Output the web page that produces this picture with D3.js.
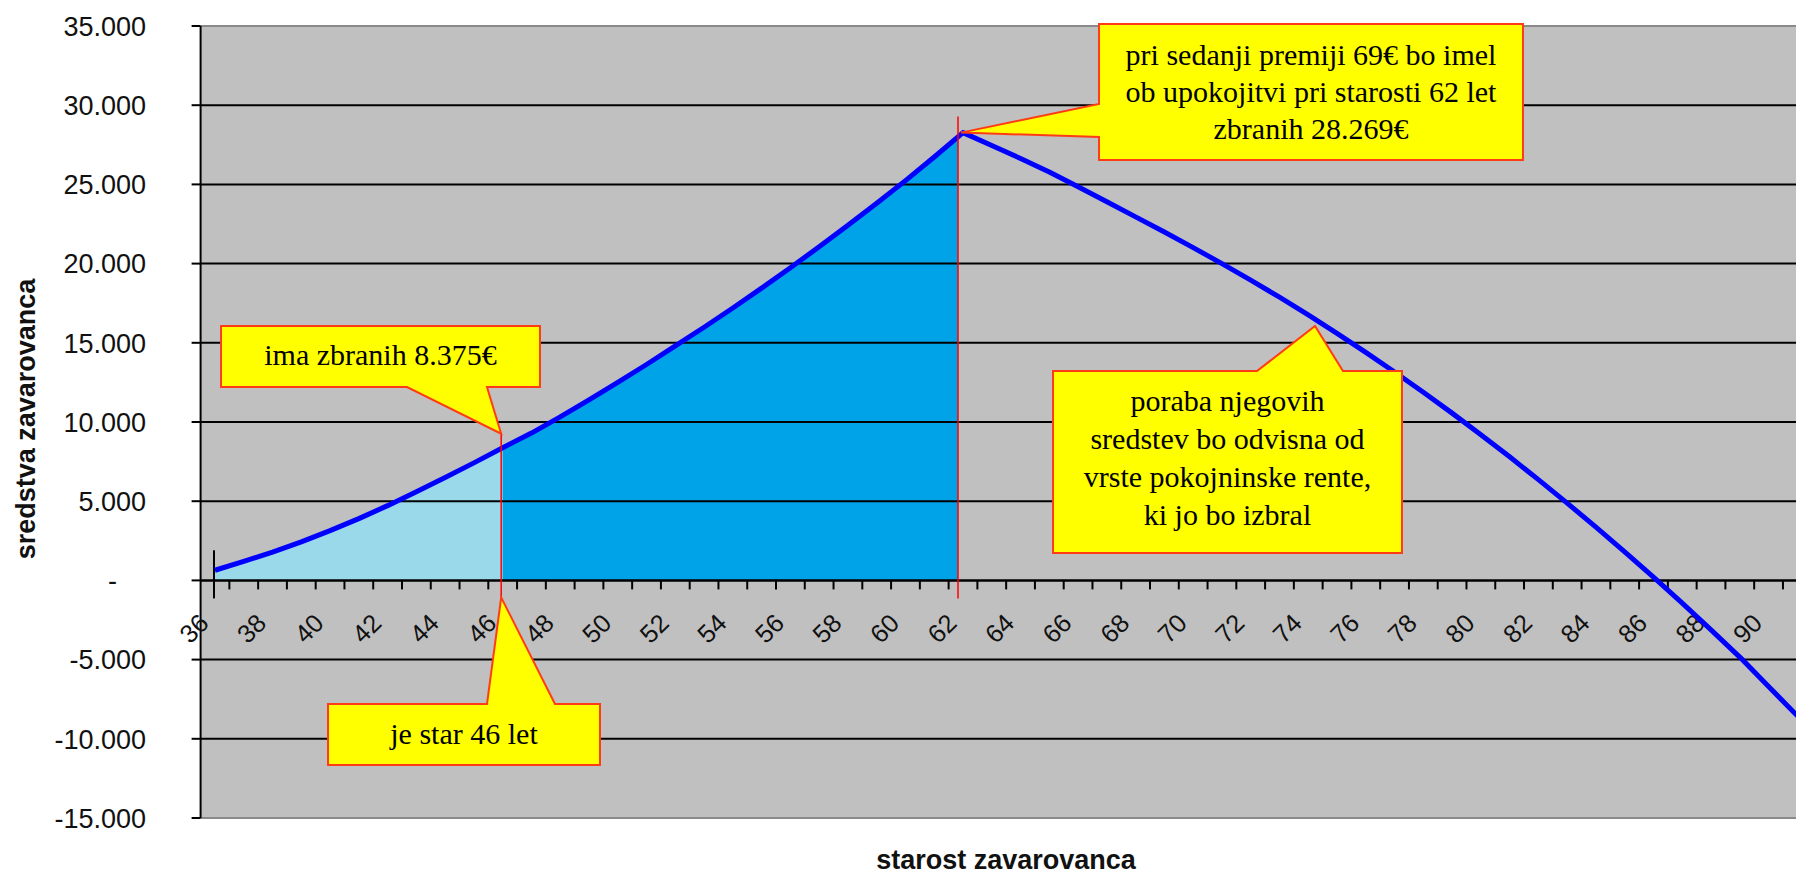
<!DOCTYPE html>
<html>
<head>
<meta charset="utf-8">
<script src="https://cdnjs.cloudflare.com/ajax/libs/d3/7.8.5/d3.min.js"></script>
<style>
  body { margin: 0; background: #fff; }
  svg { display: block; }
</style>
</head>
<body>
<svg id="chart" width="1796" height="875"></svg>
<script>
// starost (leta) in sredstva zavarovanca (EUR), odcitano s slike
var ages = [36, 37, 38, 39, 40, 41, 42, 43, 44, 45, 46, 47, 48, 49, 50, 51, 52, 53, 54, 55,
            56, 57, 58, 59, 60, 61, 62, 63, 64, 65, 66, 67, 68, 69, 70, 71, 72, 73, 74, 75,
            76, 77, 78, 79, 80, 81, 82, 83, 84, 85, 86, 87, 88, 89, 90, 91];
var sredstva = [640, 1200, 1790, 2430, 3140, 3900, 4720, 5600, 6500, 7420, 8375, 9300, 10320, 11400, 12500, 13630, 14800, 15980, 17200, 18450,
                19740, 21060, 22420, 23810, 25240, 26730, 28269, 27450, 26640, 25780, 24850, 23900, 22950, 21990, 21010, 20000, 18960, 17880, 16760, 15600,
                14400, 13160, 11880, 10560, 9200, 7800, 6360, 4880, 3360, 1800, 200, -1440, -3120, -4840, -6700, -8550];

var yTicks = [-15000, -10000, -5000, 0, 5000, 10000, 15000, 20000, 25000, 30000, 35000];
var yTickLabels = ["-15.000", "-10.000", "-5.000", "-", "5.000", "10.000", "15.000", "20.000", "25.000", "30.000", "35.000"];
var xTickLabels = [36, 38, 40, 42, 44, 46, 48, 50, 52, 54, 56, 58, 60, 62, 64, 66, 68, 70, 72, 74, 76, 78, 80, 82, 84, 86, 88, 90];

var currentAge = 46;
var retireAge = 62;

var textNow = ["ima zbranih 8.375€"];
var textAge = ["je star 46 let"];
var textRetire = ["pri sedanji premiji 69€ bo imel", "ob upokojitvi pri starosti 62 let", "zbranih 28.269€"];
var textSpend = ["poraba njegovih", "sredstev bo odvisna od", "vrste pokojninske rente,", "ki jo bo izbral"];

var W = 1796, H = 875;
var plotLeft = 200.6, plotTop = 26, plotBottom = 818;

var svg = d3.select("#chart");

var x = d3.scaleBand()
    .domain(ages)
    .range([plotLeft, plotLeft + ages.length * 28.77])
    .padding(0);
function cx(a) { return x(a) + x.bandwidth() / 2; }

var y = d3.scaleLinear()
    .domain([-15000, 35000])
    .range([plotBottom, plotTop]);

var pts = ages.map(function(a, i) { return { age: a, v: sredstva[i] }; });

var xNow = cx(currentAge) - 1.5;
var xRet = cx(retireAge) - 5;

// plot area
svg.append("rect")
    .attr("x", plotLeft).attr("y", plotTop)
    .attr("width", W - plotLeft).attr("height", plotBottom - plotTop)
    .style("fill", "#c0c0c0");

svg.append("clipPath")
    .attr("id", "fillClip")
  .append("rect")
    .attr("x", plotLeft).attr("y", plotTop)
    .attr("width", xRet - plotLeft).attr("height", plotBottom - plotTop);

// fills
var area = d3.area()
    .x(function(d) { return cx(d.age); })
    .y0(y(0))
    .y1(function(d) { return y(d.v); });

svg.append("path")
    .datum(pts.filter(function(d) { return d.age <= currentAge; }))
    .attr("d", area)
    .attr("clip-path", "url(#fillClip)")
    .style("fill", "#99d9ea");

svg.append("path")
    .datum(pts.filter(function(d) { return d.age >= currentAge && d.age <= retireAge; }))
    .attr("d", area)
    .attr("clip-path", "url(#fillClip)")
    .style("fill", "#00a2e8");

// grid
svg.selectAll(".grid")
    .data(yTicks.filter(function(t) { return t > -15000 && t < 35000; }))
    .enter().append("line")
    .attr("x1", plotLeft).attr("x2", W)
    .attr("y1", function(d) { return y(d); })
    .attr("y2", function(d) { return y(d); })
    .style("stroke", "#000")
    .style("stroke-width", "2px");

// border top / bottom
[plotTop, plotBottom].forEach(function(yy) {
  svg.append("line")
      .attr("x1", plotLeft).attr("x2", W)
      .attr("y1", yy).attr("y2", yy)
      .style("stroke", "#8a8a8a")
      .style("stroke-width", "2px");
});

// y axis
svg.append("line")
    .attr("x1", plotLeft).attr("x2", plotLeft)
    .attr("y1", plotTop).attr("y2", plotBottom)
    .style("stroke", "#000")
    .style("stroke-width", "2px");

svg.selectAll(".ytick")
    .data(yTicks)
    .enter().append("line")
    .attr("x1", plotLeft - 9).attr("x2", plotLeft)
    .attr("y1", function(d) { return y(d); })
    .attr("y2", function(d) { return y(d); })
    .style("stroke", "#000")
    .style("stroke-width", "2px");

svg.selectAll(".ylab")
    .data(yTicks)
    .enter().append("text")
    .attr("x", 146)
    .attr("y", function(d) { return y(d); })
    .attr("dx", function(d) { return d === 0 ? -29 : 0; })
    .attr("dy", "0.36em")
    .attr("text-anchor", "end")
    .style("font-family", "'Liberation Sans', Arial, sans-serif")
    .style("font-size", "27px")
    .style("fill", "#111")
    .text(function(d, i) { return yTickLabels[i]; });

// x axis
svg.append("line")
    .attr("x1", plotLeft).attr("x2", W)
    .attr("y1", y(0)).attr("y2", y(0))
    .style("stroke", "#000")
    .style("stroke-width", "2px");

svg.selectAll(".xtick")
    .data(ages.slice(1))
    .enter().append("line")
    .attr("x1", function(d) { return x(d); })
    .attr("x2", function(d) { return x(d); })
    .attr("y1", y(0)).attr("y2", y(0) + 9)
    .style("stroke", "#000")
    .style("stroke-width", "2px");

svg.selectAll(".xlab")
    .data(xTickLabels)
    .enter().append("text")
    .attr("transform", function(d) { return "translate(" + (cx(d) - 11) + "," + (y(0) + 38) + ") rotate(-45)"; })
    .attr("text-anchor", "end")
    .attr("dy", "0.35em")
    .style("font-family", "'Liberation Sans', Arial, sans-serif")
    .style("font-size", "25.5px")
    .style("fill", "#111")
    .text(function(d) { return d; });

// small marker at first point
svg.append("line")
    .attr("x1", cx(ages[0]) - 1).attr("x2", cx(ages[0]) - 1)
    .attr("y1", y(sredstva[0]) - 20).attr("y2", y(0) + 18)
    .style("stroke", "#000")
    .style("stroke-width", "2px");

// line
var line = d3.line()
    .x(function(d) { return cx(d.age); })
    .y(function(d) { return y(d.v); });

svg.append("path")
    .datum(pts)
    .attr("d", line)
    .style("fill", "none")
    .style("stroke", "#0000ff")
    .style("stroke-width", "5px")
    .style("stroke-linejoin", "round");

// titles
svg.append("text")
    .attr("transform", "translate(35,419) rotate(-90)")
    .attr("text-anchor", "middle")
    .style("font-family", "'Liberation Sans', Arial, sans-serif")
    .style("font-size", "27px")
    .style("font-weight", "bold")
    .style("fill", "#111")
    .text("sredstva zavarovanca");

svg.append("text")
    .attr("x", 1006).attr("y", 869)
    .attr("text-anchor", "middle")
    .style("font-family", "'Liberation Sans', Arial, sans-serif")
    .style("font-size", "27px")
    .style("font-weight", "bold")
    .style("fill", "#111")
    .text("starost zavarovanca");

// red markers
var tipNowTop = [xNow, y(sredstva[ages.indexOf(currentAge)]) - 14];
var tipNowBottom = [xNow, y(0) + 17];
var tipRet = [cx(retireAge) - 2, y(sredstva[ages.indexOf(retireAge)])];

svg.append("line")
    .attr("x1", xNow).attr("x2", xNow)
    .attr("y1", tipNowTop[1]).attr("y2", tipNowBottom[1])
    .style("stroke", "#ff0000")
    .style("stroke-width", "1.5px");

svg.append("line")
    .attr("x1", xRet).attr("x2", xRet)
    .attr("y1", tipRet[1] - 16).attr("y2", y(0) + 18)
    .style("stroke", "#ff0000")
    .style("stroke-width", "1.5px");

// callouts
function callout(points, lines, tx, baselines) {
  svg.append("path")
      .attr("d", "M" + points.map(function(p) { return p.join(","); }).join("L") + "Z")
      .style("fill", "#ffff00")
      .style("stroke", "#ff3c14")
      .style("stroke-width", "2px")
      .style("stroke-linejoin", "miter");
  svg.selectAll(null)
      .data(lines)
      .enter().append("text")
      .attr("x", tx)
      .attr("y", function(d, i) { return baselines[i]; })
      .attr("text-anchor", "middle")
      .style("font-family", "'Liberation Serif', 'Times New Roman', serif")
      .style("font-size", "30px")
      .style("fill", "#000")
      .text(function(d) { return d; });
}

callout([[221, 326], [540, 326], [540, 387], [487, 387], tipNowTop, [407, 387], [221, 387]],
        textNow, 380.5, [365]);

callout([[328, 704], [487, 704], tipNowBottom, [555, 704], [600, 704], [600, 765], [328, 765]],
        textAge, 464, [744]);

callout([[1099, 24], [1523, 24], [1523, 160], [1099, 160], [1099, 137], tipRet, [1099, 104]],
        textRetire, 1311, [65, 102, 139]);

callout([[1053, 371], [1257, 371], [1315, 326], [1343, 371], [1402, 371], [1402, 553], [1053, 553]],
        textSpend, 1227.5, [411, 449, 487, 525]);
</script>
</body>
</html>
